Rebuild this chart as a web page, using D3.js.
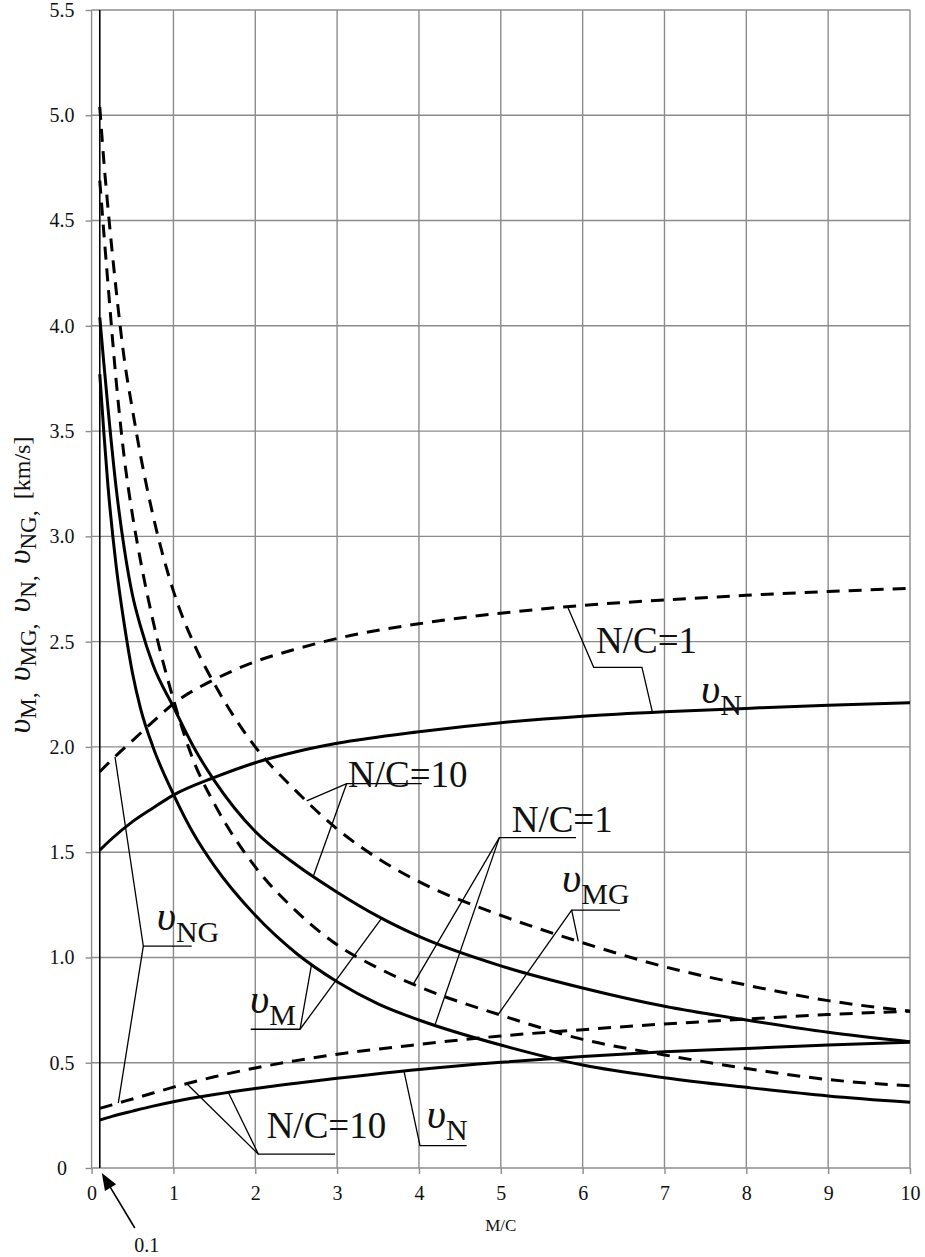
<!DOCTYPE html>
<html>
<head>
<meta charset="utf-8">
<script src="https://cdnjs.cloudflare.com/ajax/libs/d3/7.8.5/d3.min.js"></script>
<style>
body { margin: 0; background: #fff; }
svg text { font-family: "Liberation Serif", "Times New Roman", "DejaVu Serif", serif; fill: #111; }
</style>
</head>
<body>
<div id="chart"></div>
<script>
// M/C values the curves were read at
var mcFall = [0.1, 0.15, 0.2, 0.3, 0.4, 0.5, 0.6, 0.75, 1, 1.25, 1.5, 2, 2.5, 3, 3.5, 4, 5, 6, 7, 8, 9, 10];
var mcRise = [0.1, 0.25, 0.5, 0.75, 1, 1.5, 2, 2.5, 3, 4, 5, 6, 7, 8, 9, 10];

// falling curves (km/s)
var vM_nc10  = [4.04, 3.82, 3.61, 3.23, 2.94, 2.72, 2.57, 2.39, 2.19, 1.997, 1.84, 1.598, 1.44, 1.31, 1.195, 1.10, 0.96, 0.855, 0.768, 0.703, 0.645, 0.60];
var vM_nc1   = [3.77, 3.49, 3.24, 2.86, 2.58, 2.35, 2.18, 2.00, 1.775, 1.585, 1.435, 1.20, 1.02, 0.885, 0.78, 0.703, 0.584, 0.489, 0.429, 0.383, 0.342, 0.312];
var vMG_nc10 = [5.04, 4.78, 4.56, 4.17, 3.84, 3.60, 3.38, 3.10, 2.74, 2.49, 2.30, 2.00, 1.79, 1.61, 1.47, 1.36, 1.20, 1.07, 0.956, 0.869, 0.795, 0.745];
var vMG_nc1  = [4.69, 4.44, 4.20, 3.74, 3.37, 3.10, 2.88, 2.60, 2.225, 1.93, 1.73, 1.43, 1.22, 1.06, 0.95, 0.861, 0.726, 0.611, 0.537, 0.473, 0.42, 0.39];

// rising curves (km/s)
var vN_nc1   = [1.51, 1.565, 1.645, 1.71, 1.771, 1.855, 1.925, 1.977, 2.017, 2.072, 2.115, 2.146, 2.167, 2.183, 2.198, 2.21];
var vNG_nc1  = [1.882, 1.94, 2.03, 2.12, 2.205, 2.32, 2.405, 2.465, 2.515, 2.585, 2.635, 2.672, 2.698, 2.72, 2.738, 2.753];
var vN_nc10  = [0.228, 0.245, 0.27, 0.294, 0.315, 0.349, 0.378, 0.403, 0.426, 0.468, 0.502, 0.53, 0.552, 0.568, 0.584, 0.597];
var vNG_nc10 = [0.283, 0.30, 0.328, 0.356, 0.384, 0.433, 0.475, 0.51, 0.54, 0.587, 0.627, 0.657, 0.684, 0.707, 0.729, 0.745];

var xTicks = [0, 1, 2, 3, 4, 5, 6, 7, 8, 9, 10];
var yTicks = [0, 0.5, 1, 1.5, 2, 2.5, 3, 3.5, 4, 4.5, 5, 5.5];
var markerMC = 0.1;

var curves = {
    vM10:  {xs: mcFall, ys: vM_nc10,  dashed: false},
    vM1:   {xs: mcFall, ys: vM_nc1,   dashed: false},
    vMG10: {xs: mcFall, ys: vMG_nc10, dashed: true},
    vMG1:  {xs: mcFall, ys: vMG_nc1,  dashed: true},
    vN1:   {xs: mcRise, ys: vN_nc1,   dashed: false},
    vNG1:  {xs: mcRise, ys: vNG_nc1,  dashed: true},
    vN10:  {xs: mcRise, ys: vN_nc10,  dashed: false},
    vNG10: {xs: mcRise, ys: vNG_nc10, dashed: true}
};

var serif = "Liberation Serif, Times New Roman, DejaVu Serif, serif";

var svgWidth = 925;
var svgHeight = 1257;
var margin = {top: 10, right: 15, bottom: 89, left: 91.6};
var width = svgWidth - margin.left - margin.right;
var height = svgHeight - margin.top - margin.bottom;

var svg = d3.select("#chart")
    .append("svg")
    .attr("width", svgWidth)
    .attr("height", svgHeight)
    .attr("font-family", serif);

var chartGroup = svg.append("g")
    .attr("transform", `translate(${margin.left}, ${margin.top})`);

var x = d3.scaleLinear().domain([0, 10]).range([0, width]);
var y = d3.scaleLinear().domain([0, 5.5]).range([height, 0]);

// value of a curve at some M/C (for leader ends)
function at(key, mc) {
    var c = curves[key];
    var i = d3.bisectLeft(c.xs, mc);
    if (i <= 0) return c.ys[0];
    if (i >= c.xs.length) return c.ys[c.ys.length - 1];
    var t = (mc - c.xs[i - 1]) / (c.xs[i] - c.xs[i - 1]);
    return c.ys[i - 1] + t * (c.ys[i] - c.ys[i - 1]);
}

// grid
var gridColor = "#8c8c8c";
chartGroup.append("g").selectAll("line")
    .data(xTicks)
    .enter().append("line")
    .attr("x1", d => x(d)).attr("x2", d => x(d))
    .attr("y1", 0).attr("y2", height)
    .attr("stroke", gridColor).attr("stroke-width", 1.4);

chartGroup.append("g").selectAll("line")
    .data(yTicks)
    .enter().append("line")
    .attr("x1", 0).attr("x2", width)
    .attr("y1", d => y(d)).attr("y2", d => y(d))
    .attr("stroke", gridColor).attr("stroke-width", 1.4);

// axes
var bottomAxis = d3.axisBottom(x).tickValues(xTicks).tickSize(6).tickFormat(d3.format("d"));
var leftAxis = d3.axisLeft(y).tickValues(yTicks).tickSize(6)
    .tickFormat(d => d === 0 ? "0" : d3.format(".1f")(d));

var xAxis = chartGroup.append("g")
    .attr("transform", `translate(0, ${height})`)
    .call(bottomAxis)
    .attr("font-family", serif)
    .attr("font-size", 20);
xAxis.select(".domain").remove();
xAxis.selectAll("line").attr("stroke", gridColor).attr("stroke-width", 1.4);
xAxis.selectAll("text")
    .attr("y", 32).attr("dy", null)
    .attr("fill", "#111");

var yAxis = chartGroup.append("g")
    .call(leftAxis)
    .attr("font-family", serif)
    .attr("font-size", 20);
yAxis.select(".domain").remove();
yAxis.selectAll("line").attr("stroke", gridColor).attr("stroke-width", 1.4);
yAxis.selectAll("text")
    .attr("x", -29.6).attr("text-anchor", "middle")
    .attr("fill", "#111");

// axis titles
chartGroup.append("text")
    .attr("x", x(5))
    .attr("y", height + 63)
    .attr("text-anchor", "middle")
    .attr("font-size", 17)
    .text("M/C");

var yTitle = svg.append("text")
    .attr("transform", "translate(29.5, 585) rotate(-90)")
    .attr("text-anchor", "middle")
    .attr("font-size", 24);
var titleParts = ["M", "MG", "N", "NG"];
titleParts.forEach(function(sub, i) {
    var t = yTitle.append("tspan").attr("font-style", "italic").attr("font-size", 32).text("υ");
    if (i > 0) t.attr("dx", 11).attr("dy", -6);
    yTitle.append("tspan").attr("font-size", 23).attr("dy", 6).text(sub);
    yTitle.append("tspan").text(",");
});
yTitle.append("tspan").attr("dx", 11).attr("dy", -6).text("[km/s]");

// vertical line at M/C = 0.1
chartGroup.append("line")
    .attr("x1", x(markerMC)).attr("x2", x(markerMC))
    .attr("y1", y(0)).attr("y2", y(5.5))
    .attr("stroke", "#000").attr("stroke-width", 1.6);

// curves
var line = d3.line()
    .x(d => x(d[0]))
    .y(d => y(d[1]))
    .curve(d3.curveMonotoneX);

Object.keys(curves).forEach(function(key) {
    var c = curves[key];
    chartGroup.append("path")
        .datum(c.xs.map((v, i) => [v, c.ys[i]]))
        .attr("d", line)
        .attr("fill", "none")
        .attr("stroke", "#000")
        .attr("stroke-width", 3)
        .attr("stroke-dasharray", c.dashed ? "13,9" : null);
});

// leader lines, points in [M/C, value] or [M/C, curve key]
var leaders = [
    [[5.816, "vNG1"], [6.135, 2.378], [6.725, 2.378], [6.853, "vN1"]],
    [[4.034, 1.826], [3.117, 1.826], [2.628, "vMG10"]],
    [[3.117, 1.826], [2.709, "vM10"]],
    [[5.919, 1.569], [4.982, 1.569], [3.931, "vMG1"]],
    [[4.982, 1.569], [4.196, "vM1"]],
    [[6.457, 1.225], [5.866, 1.225], [5.947, "vMG10"]],
    [[5.866, 1.225], [4.969, "vMG1"]],
    [[1.944, 0.659], [2.547, 0.659], [2.689, "vM1"]],
    [[2.547, 0.659], [3.545, "vM10"]],
    [[1.223, 1.054], [0.632, 1.054], [0.286, "vNG1"]],
    [[0.632, 1.054], [0.326, "vNG10"]],
    [[2.974, 0.066], [2.037, 0.066], [1.163, "vNG10"]],
    [[2.037, 0.066], [1.671, "vN10"]],
    [[4.583, 0.106], [4.013, 0.106], [3.817, "vN10"]]
];

var leaderLine = d3.line()
    .x(d => x(d[0]))
    .y(d => y(typeof d[1] === "string" ? at(d[1], d[0]) : d[1]));

chartGroup.append("g").selectAll("path")
    .data(leaders)
    .enter().append("path")
    .attr("d", leaderLine)
    .attr("fill", "none")
    .attr("stroke", "#000")
    .attr("stroke-width", 1.3);

// N/C labels
var ncLabels = [
    {at: [6.163, 2.446], text: "N/C=1"},
    {at: [3.133, 1.811], text: "N/C=10"},
    {at: [5.133, 1.597], text: "N/C=1"},
    {at: [2.139, 0.141], text: "N/C=10"}
];
chartGroup.append("g").selectAll("text")
    .data(ncLabels)
    .enter().append("text")
    .attr("x", d => x(d.at[0]))
    .attr("y", d => y(d.at[1]))
    .attr("font-size", 37)
    .text(d => d.text);

// curve name labels
var nameLabels = [
    {at: [7.446, 2.208], sub: "N"},
    {at: [5.748, 1.312], sub: "MG"},
    {at: [1.935, 0.735], sub: "M"},
    {at: [0.795, 1.130], sub: "NG"},
    {at: [4.095, 0.189], sub: "N"}
];
nameLabels.forEach(function(b) {
    var t = chartGroup.append("text")
        .attr("x", x(b.at[0]))
        .attr("y", y(b.at[1]));
    t.append("tspan").attr("font-style", "italic").attr("font-size", 42).text("υ");
    t.append("tspan").attr("font-size", 30).attr("dy", 12).text(b.sub);
});

// arrow pointing at 0.1
var tip = [x(markerMC) + 2, height + 5];
var tail = [tip[0] + 33, tip[1] + 55];
var ang = Math.atan2(tip[1] - tail[1], tip[0] - tail[0]);
chartGroup.append("line")
    .attr("x1", tail[0]).attr("y1", tail[1])
    .attr("x2", tip[0] - 12 * Math.cos(ang)).attr("y2", tip[1] - 12 * Math.sin(ang))
    .attr("stroke", "#000").attr("stroke-width", 1.6);
var hl = 17, hw = 6.5;
var bx = tip[0] - hl * Math.cos(ang), by = tip[1] - hl * Math.sin(ang);
chartGroup.append("path")
    .attr("d", `M${tip[0]},${tip[1]}L${bx + hw * Math.sin(ang)},${by - hw * Math.cos(ang)}L${bx - hw * Math.sin(ang)},${by + hw * Math.cos(ang)}Z`)
    .attr("fill", "#000");
chartGroup.append("text")
    .attr("x", tip[0] + 45)
    .attr("y", tip[1] + 79)
    .attr("text-anchor", "middle")
    .attr("font-size", 20)
    .text("0.1");
</script>
</body>
</html>
